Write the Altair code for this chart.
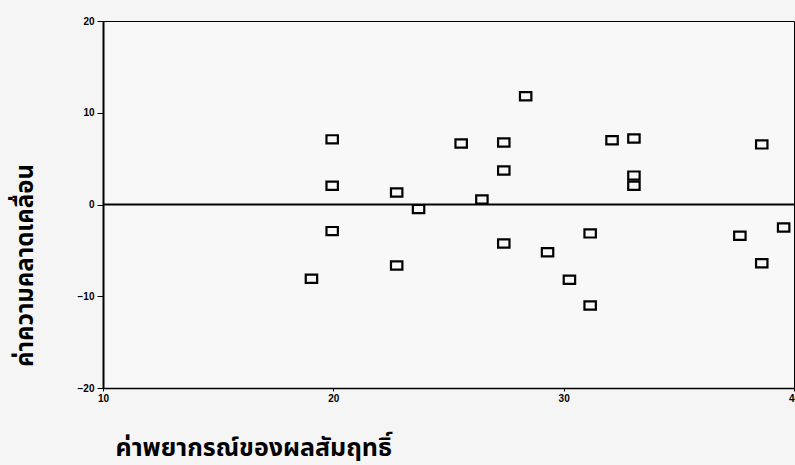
import altair as alt
import pandas as pd

# Predicted values (x) and residuals (y)
pred = [19.05, 19.95, 19.95, 19.95, 22.75, 22.75, 23.7, 25.55, 26.45, 27.4,
        27.4, 27.4, 28.35, 29.3, 30.25, 31.15, 31.15, 32.1, 33.05, 33.05,
        33.05, 37.65, 38.6, 38.6, 39.55]
resid = [-8.1, 7.1, 2.05, -2.9, 1.3, -6.65, -0.5, 6.65, 0.55, 6.75,
         3.7, -4.25, 11.8, -5.2, -8.2, -3.15, -11.0, 7.0, 7.2, 3.15,
         2.05, -3.4, 6.55, -6.4, -2.5]

x_ticks = [10, 20, 30, 40]
y_ticks = [-20, -10, 0, 10, 20]
zero = [0]

x_title = "ค่าพยากรณ์ของผลสัมฤทธิ์"
y_title = "ค่าความคลาดเคลื่อน"

df = pd.DataFrame({"pred": pred, "resid": resid})
zdf = pd.DataFrame({"z": zero})

label_font = "Liberation Sans"
thai_font = "Noto Sans Thai, Noto Sans, sans-serif"

xscale = alt.Scale(domain=[10, 40], nice=False, zero=False)
yscale = alt.Scale(domain=[-20, 20], nice=False, zero=False)

points = alt.Chart(df).mark_point(
    shape="M-1,-0.72L1,-0.72L1,0.72L-1,0.72Z",
    size=130,
    filled=False,
    stroke="black",
    strokeWidth=2.2,
    opacity=1,
).encode(
    x=alt.X("pred:Q", scale=xscale, axis=alt.Axis(
        values=x_ticks, tickSize=3, labelPadding=2, grid=False,
        labelFont=label_font, labelFontWeight="bold", labelFontSize=10,
        labelColor="black", domainColor="black", domainWidth=1.5,
        tickColor="black", labelFlush=False,
        title=x_title, titleFont=thai_font, titleFontSize=25,
        titleFontWeight="bold", titleColor="black",
        titleAnchor="start", titleAlign="left", titleBaseline="alphabetic",
        titleX=12, titleY=67,
    )),
    y=alt.Y("resid:Q", scale=yscale, axis=alt.Axis(
        values=y_ticks, tickSize=6, labelPadding=3, grid=False,
        labelFont=label_font, labelFontWeight="bold", labelFontSize=10,
        labelColor="black", domainColor="black", domainWidth=2,
        tickColor="black", labelFlush=False,
        title=y_title, titleFont=thai_font, titleFontSize=24,
        titleFontWeight="bold", titleColor="black",
        titleAngle=270, titleAlign="center", titleBaseline="alphabetic",
        titleX=-71, titleY=244,
    )),
)

zline = alt.Chart(zdf).mark_rule(color="black", strokeWidth=2).encode(
    y=alt.Y("z:Q", scale=yscale)
)

chart = alt.layer(zline, points).properties(
    width=691,
    height=367,
    background="#f5f5f5",
    padding={"left": 103, "top": 21, "right": 1, "bottom": 77},
    autosize=alt.AutoSizeParams(type="none"),
).configure_view(
    stroke="black",
    strokeWidth=1,
    fill="#f8f8f8",
)

chart.save("out.html", embed_options={"renderer": "svg", "actions": False})
